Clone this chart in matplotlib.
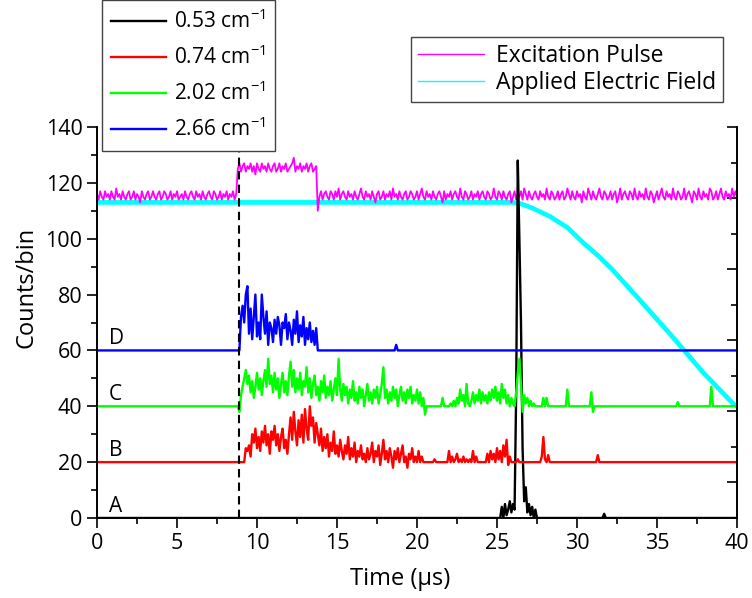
import numpy as np
import matplotlib
matplotlib.use("Agg")
import matplotlib.pyplot as plt
from matplotlib.ticker import MultipleLocator
from matplotlib.lines import Line2D

plt.rcParams['font.family'] = ['Open Sans', 'DejaVu Sans']
plt.rcParams['mathtext.fontset'] = 'custom'
plt.rcParams['mathtext.rm'] = 'Open Sans'
plt.rcParams['mathtext.it'] = 'Open Sans'

STEP = 0.1  # bin width of the read-off traces (us)

# ---- excitation pulse (magenta), three segments starting at 0.0, 8.8, 13.8 us
pulse_pre = [116,114,117,115,114,117,115,116,114,117,
             115,114,118,115,116,114,117,115,114,116,
             117,114,115,117,114,116,115,113,117,115,
             114,116,117,114,115,117,115,114,116,117,
             114,115,117,116,114,115,117,114,116,115,
             117,114,115,116,114,117,115,114,116,117,
             115,114,117,115,116,114,117,115,114,116,
             117,115,114,117,116,114,115,117,114,116,
             115,117,114,116,115,117,114,116]
pulse_on = [125,127,124,126,127,124,126,125,127,124,
            126,123,127,125,124,127,125,126,124,127,
            125,124,126,127,124,125,127,124,126,125,
            127,124,125,126,127,129,124,126,125,127,
            124,126,125,127,124,126,127,124,125,126]
pulse_post = [110,
              115,117,114,116,117,115,114,117,116,114,
              117,115,118,114,116,117,115,114,117,115,
              116,114,117,115,114,116,118,115,114,117,
              115,116,114,117,115,113,116,117,114,115,
              117,114,116,115,117,114,118,115,116,114,
              117,115,114,116,117,114,115,117,116,114,
              115,117,114,116,118,115,114,117,115,116,
              114,117,115,114,116,117,115,113,117,114,
              116,115,117,114,116,117,115,114,118,115,
              114,117,116,114,115,117,114,116,115,117,
              114,116,117,115,114,117,116,114,115,118,
              115,114,117,116,114,117,115,114,116,117,
              113,115,117,114,116,115,117,114,118,116,
              114,117,115,114,116,117,115,114,117,115,
              116,114,118,115,114,117,116,114,115,117,
              114,116,117,114,115,118,116,114,117,115,
              114,117,115,116,113,117,115,114,118,116,
              114,117,115,114,116,118,115,114,117,116,
              114,115,117,114,116,117,113,115,118,114,
              116,117,115,114,117,116,114,118,115,114,
              117,115,116,114,118,115,114,117,116,113,
              115,117,114,116,118,115,114,117,115,116,
              114,118,115,114,117,116,114,115,118,114,
              116,117,115,113,117,116,114,118,115,114,
              117,115,116,114,118,117,114,115,117,114,
              116,118,115,114,117,115,116,114,118,115,
              117,115]
pulse_starts = [0.0, 8.8, 13.8]

# ---- applied electric field (cyan)
field_t = [0.0, 26.0, 26.5, 27.2, 28.3, 29.4, 30.4, 31.4, 32.2, 33.7, 35.8, 36.7, 37.9, 39.75, 40.0]
field_v = [113, 113, 112.5, 111, 108, 104, 98.5, 93.5, 89, 79.5, 66, 60, 52, 41, 40]

# ---- A: 0.53 cm-1 (black), burst starting 25.2 us
black_start = 25.2
black_burst = [0,4,0,5,1,3,6,2,5,3,45,128,100,70,25,6,11,2,5,1,4,0,3,0]
black_blip_t = [31.6, 31.7, 31.8]
black_blip_v = [0, 1.5, 0]

# ---- B: 0.74 cm-1 (red), burst starting 9.2 us
red_start = 9.2
red_burst = [20,25,24,26,22,30,27,32,25,29,
             24,31,27,33,26,30,23,31,28,33,
             26,30,24,29,32,25,28,23,30,36,
             28,38,31,26,35,29,37,27,39,32,
             28,40,33,36,27,34,30,26,32,24,
             29,25,30,22,27,24,31,23,26,22,
             28,24,21,26,23,29,21,25,22,27,
             20,24,22,26,21,23,20,25,21,23,
             27,20,24,22,26,19,23,28,21,24,
             20,25,22,18,24,21,25,20,23,26,
             20,22,18,23,21,25,20,22,20,24,
             20,22,20,20,20,20,20,20,20,21,
             20,20,20,20,20,20,20,20,24,20,
             22,20,21,23,20,21,20,22,20,21,
             20,21,20,24,20,22,20,20,20,20,
             20,20,23,20,24,21,23,20,25,21,
             24,20,26,22,28,19,22,20,20,20,
             20,21,20,20,20,20,20,20,20,20,
             20,20,20,20,20,20,22,29,21,20,
             22.5,20]
red_blip_t = [31.2, 31.3, 31.4]
red_blip_v = [20, 22.5, 20]

# ---- C: 2.02 cm-1 (green), burst starting 8.8 us
green_start = 8.8
green_burst = [40,38,44,47,50,53,48,51,45,49,
               43,47,52,46,50,44,49,53,47,57,
               48,51,45,52,46,50,43,48,52,45,
               49,44,51,56,47,53,45,50,46,52,
               44,49,47,54,45,50,43,48,51,44,
               47,42,49,45,51,43,47,44,49,42,
               46,50,44,57,46,42,48,44,47,41,
               46,43,49,42,45,41,47,43,46,40,
               44,48,42,45,41,46,43,47,41,44,
               48,54,43,46,41,45,42,47,43,46,
               40,44,47,42,45,41,46,43,47,41,
               44,42,46,41,45,40,43,37,40,40,
               40,40,40,40,40,40,40,40,43,40,
               40,40,40,41,40,42,40,43,41,46,
               42,44,40,48,41,40,42,45,41,44,
               42,46,41,45,42,44,41,45,42,46,
               43,47,42,45,41,48,43,46,41,44,
               40,43,41,40,45,52,57,48,38,44,
               41,43,40,42,40,41,40]
green_blip_t = [27.8, 27.9, 28.0, 28.1, 28.2, 29.3, 29.4, 29.5, 30.8, 30.9, 31.0, 31.1,
                36.2, 36.3, 36.4, 38.3, 38.4, 38.5]
green_blip_v = [40, 43, 40, 43, 40, 40, 46, 40, 40, 45, 38, 40,
                40, 41.5, 40, 40, 47, 40]

# ---- D: 2.66 cm-1 (blue), burst starting 8.9 us
blue_start = 8.9
blue_burst = [60,72,76,70,80,83,66,75,64,72,
              80,65,70,64,80,72,66,74,62,70,
              68,63,71,66,72,69,62,70,68,73,
              64,70,67,62,71,66,74,63,69,65,
              72,62,68,64,70,63,67,62,68,60]
blue_blip_t = [18.6, 18.7, 18.8]
blue_blip_v = [60, 62, 60]

baselines = {'A': 0, 'B': 20, 'C': 40, 'D': 60}
trigger_t = 8.85


def trace(base, start, burst, blip_t, blip_v):
    t = np.concatenate([[0.0], start + STEP * np.arange(len(burst)), blip_t, [40.0]])
    v = np.concatenate([[base], burst, blip_v, [base]])
    return t, v


fig = plt.figure(figsize=(7.52, 5.98), dpi=100)
ax = fig.add_axes([0.129, 0.1338, 0.851, 0.6538])
ax2 = ax.twinx()
ax.set_zorder(ax2.get_zorder() + 1)
ax.patch.set_visible(False)

# pulse / field layer (behind)
ax2.plot(field_t, field_v, color='#00ffff', lw=3.4)
pt = np.concatenate([s + STEP * np.arange(len(seg))
                     for s, seg in zip(pulse_starts, [pulse_pre, pulse_on, pulse_post])])
pv = np.concatenate([pulse_pre, pulse_on, pulse_post])
ax2.plot(pt, pv, color='#ff00ff', lw=1.3)
ax2.set_ylim(0, 140)

# the right-hand axis only carries unlabeled ticks
ax2.set_yticks([140 / 11 * k for k in range(1, 12, 2)])
ax2.set_yticks([140 / 11 * k for k in range(0, 12, 2)], minor=True)
ax2.tick_params(axis='y', which='both', direction='in', labelright=False, width=1.2)
ax2.tick_params(axis='y', which='major', length=7)
ax2.tick_params(axis='y', which='minor', length=4)

# counting traces
lines = []
specs = [('A', black_start, black_burst, black_blip_t, black_blip_v, 'black', '0.53 cm$^{-1}$'),
         ('B', red_start, red_burst, red_blip_t, red_blip_v, '#ff0000', '0.74 cm$^{-1}$'),
         ('C', green_start, green_burst, green_blip_t, green_blip_v, '#00ff00', '2.02 cm$^{-1}$'),
         ('D', blue_start, blue_burst, blue_blip_t, blue_blip_v, '#0000ff', '2.66 cm$^{-1}$')]
for name, start, burst, bt, bv, col, lab in specs:
    t, v = trace(baselines[name], start, burst, bt, bv)
    ln, = ax.plot(t, v, color=col, lw=1.7, label=lab)
    lines.append(ln)
    ax.text(0.75, baselines[name] + 4.2, name, fontsize=15, va='center')

ax.plot([trigger_t, trigger_t], [0, 132], color='black', lw=1.5, ls=(0, (4, 2.5)))

ax.set_xlim(0, 40)
ax.set_ylim(0, 140)
ax.xaxis.set_major_locator(MultipleLocator(5))
ax.xaxis.set_minor_locator(MultipleLocator(2.5))
ax.yaxis.set_major_locator(MultipleLocator(20))
ax.yaxis.set_minor_locator(MultipleLocator(10))
ax.tick_params(which='both', direction='out', width=1.2, labelsize=15.5)
ax.tick_params(which='major', length=7)
ax.tick_params(which='minor', length=4)
for a in (ax, ax2):
    a.spines['top'].set_visible(False)
    for s in ('left', 'right', 'bottom'):
        a.spines[s].set_linewidth(1.2)

ax.set_xlabel('Time (\u03bcs)', fontsize=17)
ax.set_ylabel('Counts/bin', fontsize=17)
ax.xaxis.set_label_coords(0.473, -0.125)
ax.yaxis.set_label_coords(-0.092, 0.59)

leg1 = fig.legend(handles=lines, loc='upper left', bbox_to_anchor=(0.1356, 1.0),
                  borderaxespad=0, fontsize=15, handlelength=2.6, labelspacing=0.6,
                  borderpad=0.45, handletextpad=0.4, frameon=True, fancybox=False,
                  framealpha=1, edgecolor='#444444')
leg1.get_frame().set_linewidth(1.0)

h2 = [Line2D([], [], color='#ff00ff', lw=1.0), Line2D([], [], color='#00ffff', lw=1.0)]
leg2 = fig.legend(h2, ['Excitation Pulse', 'Applied Electric Field'], loc='upper left',
                  bbox_to_anchor=(0.5465, 0.938), borderaxespad=0, fontsize=16.5,
                  handlelength=2.9, labelspacing=0.15, borderpad=0.3, handletextpad=0.5,
                  frameon=True, fancybox=False, framealpha=1, edgecolor='#444444')
leg2.get_frame().set_linewidth(1.0)

fig.savefig('out.png', dpi=100)
